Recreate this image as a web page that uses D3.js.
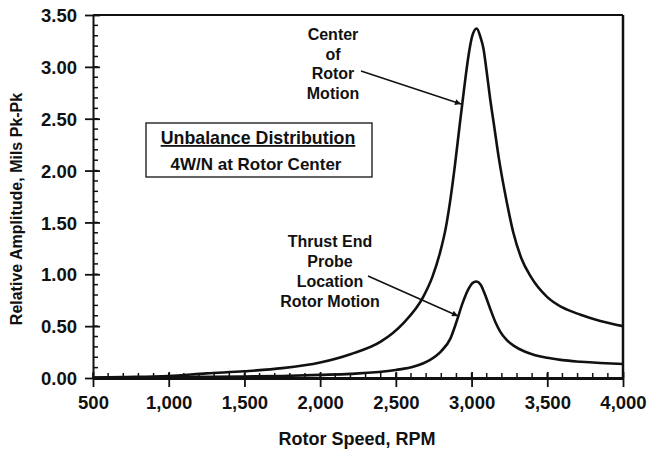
<!DOCTYPE html>
<html>
<head>
<meta charset="utf-8">
<script src="https://cdn.jsdelivr.net/npm/d3@7"></script>
<style>
  body { margin: 0; background: #fff; }
  svg text { font-family: "Liberation Sans", Arial, Helvetica, sans-serif; font-weight: bold; fill: #111; }
</style>
</head>
<body>
<div id="chart"></div>
<script>
// data
var xTicks = [500, 1000, 1500, 2000, 2500, 3000, 3500, 4000];
var xTickLabels = ["500", "1,000", "1,500", "2,000", "2,500", "3,000", "3,500", "4,000"];
var yTicks = [0, 0.5, 1.0, 1.5, 2.0, 2.5, 3.0, 3.5];
var yTickLabels = ["0.00", "0.50", "1.00", "1.50", "2.00", "2.50", "3.00", "3.50"];

var centerRpm = [500, 700, 1000, 1250, 1500, 1750, 2000, 2200, 2400, 2550, 2680, 2740, 2790, 2830, 2860, 2890, 2920, 2950, 2980, 3005, 3034, 3060, 3078, 3100, 3122, 3150, 3180, 3232, 3276, 3330, 3390, 3500, 3600, 3720, 3850, 4000];
var centerAmp = [0.005, 0.01, 0.02, 0.045, 0.065, 0.095, 0.15, 0.23, 0.35, 0.53, 0.78, 0.97, 1.20, 1.45, 1.72, 2.05, 2.42, 2.78, 3.11, 3.30, 3.37, 3.28, 3.18, 2.95, 2.70, 2.42, 2.12, 1.70, 1.40, 1.15, 0.98, 0.78, 0.68, 0.61, 0.55, 0.50];

var thrustRpm = [500, 1000, 1500, 1750, 2000, 2200, 2500, 2620, 2720, 2800, 2860, 2900, 2940, 2980, 3010, 3034, 3060, 3090, 3120, 3160, 3190, 3230, 3280, 3350, 3420, 3500, 3600, 3720, 3850, 4000];
var thrustAmp = [0.002, 0.008, 0.015, 0.02, 0.03, 0.04, 0.077, 0.11, 0.17, 0.26, 0.38, 0.54, 0.72, 0.86, 0.92, 0.93, 0.90, 0.80, 0.68, 0.53, 0.445, 0.37, 0.31, 0.255, 0.22, 0.195, 0.172, 0.157, 0.145, 0.135];

var svgWidth = 647;
var svgHeight = 451;
var margin = { top: 15, right: 24, bottom: 73, left: 93 };
var chart_width = svgWidth - margin.left - margin.right;
var chart_height = svgHeight - margin.top - margin.bottom;

var svg = d3.select("#chart")
    .append("svg")
    .attr("width", svgWidth)
    .attr("height", svgHeight);

var chartGroup = svg.append("g")
    .attr("transform", `translate(${margin.left}, ${margin.top})`);

var xScale = d3.scaleLinear().domain([500, 4000]).range([0, chart_width]);
var yScale = d3.scaleLinear().domain([0, 3.5]).range([chart_height, 0]);

// frame: top and right
chartGroup.append("line")
    .attr("x1", 0).attr("x2", chart_width).attr("y1", 0).attr("y2", 0)
    .attr("stroke", "#111").attr("stroke-width", 2);
chartGroup.append("line")
    .attr("x1", chart_width).attr("x2", chart_width).attr("y1", 0).attr("y2", chart_height)
    .attr("stroke", "#111").attr("stroke-width", 2.5);

// minor ticks
var yMinor = d3.range(0, 36).map(d => d / 10);
chartGroup.append("g").selectAll("line")
    .data(yMinor)
    .enter()
    .append("line")
    .attr("x1", 0).attr("x2", 5)
    .attr("y1", d => yScale(d)).attr("y2", d => yScale(d))
    .attr("stroke", "#111").attr("stroke-width", 1.5);

var xMinor = d3.range(500, 4001, 100);
chartGroup.append("g").selectAll("line")
    .data(xMinor)
    .enter()
    .append("line")
    .attr("x1", d => xScale(d)).attr("x2", d => xScale(d))
    .attr("y1", chart_height).attr("y2", chart_height - 5)
    .attr("stroke", "#111").attr("stroke-width", 1.5);

// axes
var leftAxis = d3.axisLeft(yScale)
    .tickValues(yTicks)
    .tickFormat((d, i) => yTickLabels[i])
    .tickSizeInner(8).tickSizeOuter(0).tickPadding(8);
var bottomAxis = d3.axisBottom(xScale)
    .tickValues(xTicks)
    .tickFormat((d, i) => xTickLabels[i])
    .tickSizeInner(9).tickSizeOuter(0).tickPadding(9);

var gy = chartGroup.append("g").call(leftAxis);
var gx = chartGroup.append("g")
    .attr("transform", `translate(0, ${chart_height})`)
    .call(bottomAxis);

gy.select(".domain").attr("stroke", "#111").attr("stroke-width", 2);
gy.selectAll(".tick line").attr("x2", 7).attr("x1", -8).attr("stroke", "#111").attr("stroke-width", 1.8);
gy.selectAll(".tick text").attr("font-size", 18.5).attr("dy", "0.36em");

gx.select(".domain").attr("stroke", "#111").attr("stroke-width", 3);
gx.selectAll(".tick line").attr("y1", -6).attr("y2", 9).attr("stroke", "#111").attr("stroke-width", 1.8);
gx.selectAll(".tick text").attr("font-size", 18.5).attr("dy", "0.71em");

// curves
var line = d3.line()
    .x(d => xScale(d[0]))
    .y(d => yScale(d[1]))
    .curve(d3.curveMonotoneX);

chartGroup.append("path")
    .datum(centerRpm.map((r, i) => [r, centerAmp[i]]))
    .attr("d", line)
    .attr("fill", "none")
    .attr("stroke", "#111")
    .attr("stroke-width", 2.6);

chartGroup.append("path")
    .datum(thrustRpm.map((r, i) => [r, thrustAmp[i]]))
    .attr("d", line)
    .attr("fill", "none")
    .attr("stroke", "#111")
    .attr("stroke-width", 2.6);

// axis titles
svg.append("text")
    .attr("transform", "translate(22, 209) rotate(-90)")
    .attr("text-anchor", "middle")
    .attr("font-size", 16)
    .text("Relative Amplitude, Mils Pk-Pk");

svg.append("text")
    .attr("x", 357).attr("y", 445)
    .attr("text-anchor", "middle")
    .attr("font-size", 18)
    .text("Rotor Speed, RPM");

// arrow marker
svg.append("defs").append("marker")
    .attr("id", "arrow")
    .attr("viewBox", "0 0 10 10")
    .attr("refX", 10).attr("refY", 5)
    .attr("markerWidth", 10).attr("markerHeight", 6)
    .attr("markerUnits", "userSpaceOnUse")
    .attr("orient", "auto")
    .append("path")
    .attr("d", "M0,0 L10,5 L0,10 Z")
    .attr("fill", "#111");

// annotations
var centerLabel = ["Center", "of", "Rotor", "Motion"];
svg.append("g").selectAll("text")
    .data(centerLabel)
    .enter()
    .append("text")
    .attr("x", 333)
    .attr("y", (d, i) => 40 + i * 19.5)
    .attr("text-anchor", "middle")
    .attr("font-size", 16)
    .text(d => d);

svg.append("line")
    .attr("x1", 361).attr("y1", 71)
    .attr("x2", 461).attr("y2", 104)
    .attr("stroke", "#111").attr("stroke-width", 1.4)
    .attr("marker-end", "url(#arrow)");

var thrustLabel = ["Thrust End", "Probe", "Location", "Rotor Motion"];
svg.append("g").selectAll("text")
    .data(thrustLabel)
    .enter()
    .append("text")
    .attr("x", 330)
    .attr("y", (d, i) => 247 + i * 20)
    .attr("text-anchor", "middle")
    .attr("font-size", 16)
    .text(d => d);

svg.append("line")
    .attr("x1", 368).attr("y1", 276)
    .attr("x2", 458).attr("y2", 316)
    .attr("stroke", "#111").attr("stroke-width", 1.4)
    .attr("marker-end", "url(#arrow)");

// boxed legend
svg.append("rect")
    .attr("x", 146).attr("y", 123)
    .attr("width", 226).attr("height", 54)
    .attr("fill", "none")
    .attr("stroke", "#111").attr("stroke-width", 1.3);

svg.append("text")
    .attr("x", 258).attr("y", 144)
    .attr("text-anchor", "middle")
    .attr("font-size", 17.8)
    .attr("text-decoration", "underline")
    .text("Unbalance Distribution");

svg.append("text")
    .attr("x", 256).attr("y", 170)
    .attr("text-anchor", "middle")
    .attr("font-size", 17)
    .text("4W/N at Rotor Center");
</script>
</body>
</html>
